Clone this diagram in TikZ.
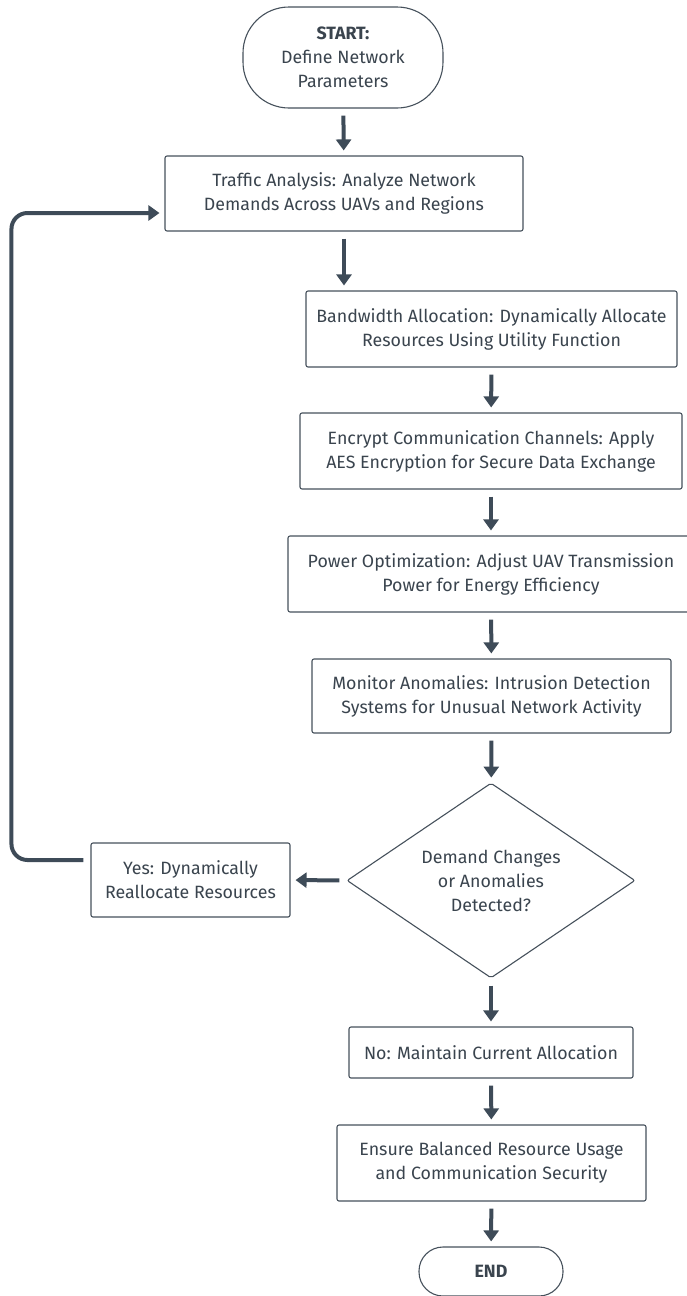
\documentclass[tikz,border=0pt]{standalone}
\usepackage{fontspec}
\setmainfont{Fira Sans}
\usetikzlibrary{shapes.geometric,arrows.meta}
\definecolor{boxline}{HTML}{46515C}
\definecolor{flowcol}{HTML}{3E4B58}
\definecolor{txtcol}{HTML}{3A444E}
\tikzset{
  box/.style={draw=boxline, line width=1.1pt, rounded corners=2pt, fill=white,
    align=center, text=txtcol, inner sep=0pt, font=\fontsize{17.8}{24}\selectfont},
  term/.style={box, rounded corners=#1},
  decision/.style={box, diamond, aspect=1.48, minimum width=288pt, minimum height=195pt},
  flow/.style={draw=flowcol, line width=4pt, -{Triangle[width=15pt,length=11pt]},
    shorten <=7pt, shorten >=5pt}
}
\begin{document}
\begin{tikzpicture}[x=1pt,y=-1pt]
	\useasboundingbox (0,0) rectangle (686,1296);
	% Hauptstrang
	\node[term=46pt, minimum width=200pt, minimum height=101pt] (start) at (343,57.5) {\textbf{START:}\\Define Network\\Parameters};
	\node[box, minimum width=358pt, minimum height=75pt] (traffic) at (344,193.5) {Traffic Analysis: Analyze Network\\Demands Across UAVs and Regions};
	\node[box, minimum width=371pt, minimum height=76pt] (band) at (491.5,329) {Bandwidth Allocation: Dynamically Allocate\\Resources Using Utility Function};
	\node[box, minimum width=382pt, minimum height=76pt] (encrypt) at (491,451) {Encrypt Communication Channels: Apply\\AES Encryption for Secure Data Exchange};
	\node[box, minimum width=406pt, minimum height=76pt] (power) at (491,574) {Power Optimization: Adjust UAV Transmission\\Power for Energy Efficiency};
	\node[box, minimum width=359pt, minimum height=74pt] (monitor) at (491.5,696) {Monitor Anomalies: Intrusion Detection\\Systems for Unusual Network Activity};
	\node[decision] (check) at (491,880.5) {Demand Changes\\or Anomalies\\Detected?};
	\node[box, minimum width=284pt, minimum height=51pt] (keep) at (491,1052.5) {No: Maintain Current Allocation};
	\node[box, minimum width=309pt, minimum height=76pt] (ensure) at (491.5,1163) {Ensure Balanced Resource Usage\\and Communication Security};
	\node[term=24pt, minimum width=144pt, minimum height=49pt, font=\fontsize{17.8}{24}\selectfont\bfseries] (stop) at (491,1271.5) {END};
	% Ja-Zweig
	\node[box, minimum width=199pt, minimum height=74pt] (yes) at (190.5,880) {Yes: Dynamically\\Reallocate Resources};
	% Pfeile
	\draw[flow] (start) -- (traffic);
	\draw[flow] (traffic.south) -- (traffic.south |- band.north);
	\draw[flow] (band) -- (encrypt);
	\draw[flow] (encrypt) -- (power);
	\draw[flow] (power) -- (monitor);
	\draw[flow] (monitor) -- (check);
	\draw[flow] (check.west) -- (yes.east);
	\draw[flow] (check.south) -- (keep.north);
	\draw[flow] (keep) -- (ensure);
	\draw[flow] (ensure) -- (stop);
	% Rueckfuehrung
	\draw[flow, rounded corners=16pt] ([yshift=20pt]yes.west) -- ++(-79,0) |- ([yshift=-19.5pt]traffic.west);
\end{tikzpicture}
\end{document}
